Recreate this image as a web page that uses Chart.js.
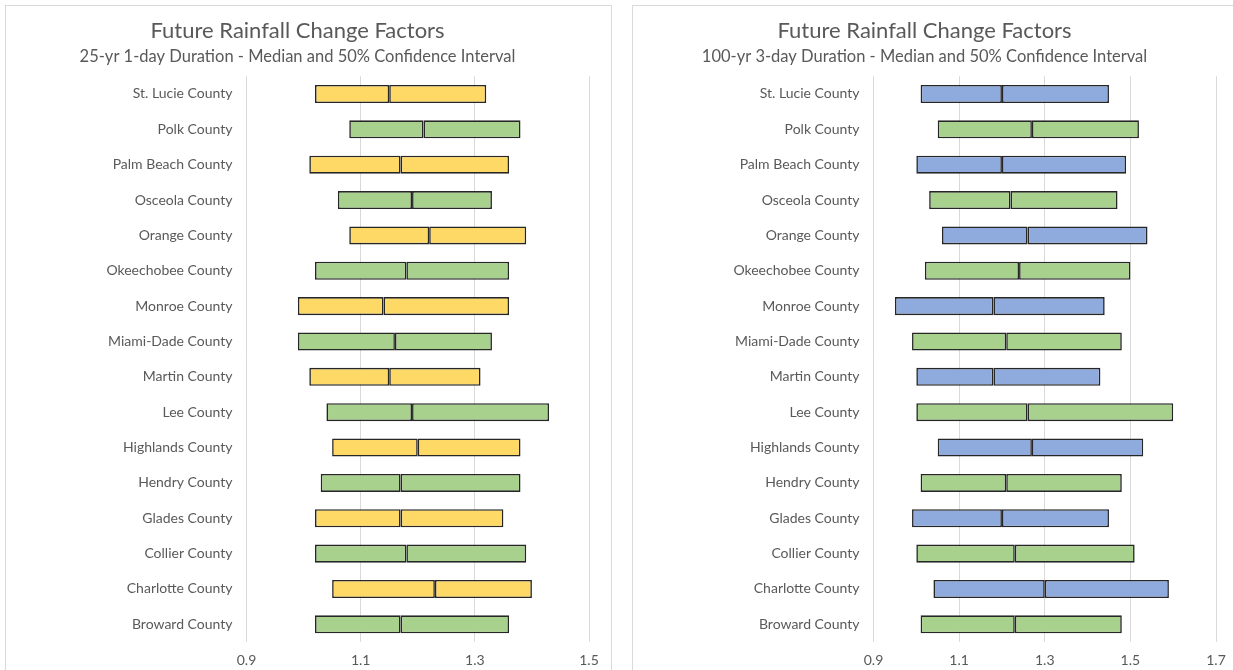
<!DOCTYPE html>
<html>
<head>
<meta charset="utf-8">
<script src="https://cdn.jsdelivr.net/npm/chart.js@4"></script>
<style>
  body { margin: 0; background: #fff; width: 1233px; height: 670px; overflow: hidden; position: relative; }
  .panel { position: absolute; top: 5px; height: 700px; border: 1px solid #d9d9d9; box-sizing: border-box; background: #fff; }
  .panel canvas { position: absolute; left: 0; top: 0; }
</style>
</head>
<body>
<div class="panel" style="left:5px; width:607px;"><canvas id="chart1" width="605" height="664"></canvas></div>
<div class="panel" style="left:632px; width:607px;"><canvas id="chart2" width="605" height="664"></canvas></div>

<script>
// ------------------- dados -------------------
const counties = [
  'St. Lucie County', 'Polk County', 'Palm Beach County', 'Osceola County',
  'Orange County', 'Okeechobee County', 'Monroe County', 'Miami-Dade County',
  'Martin County', 'Lee County', 'Highlands County', 'Hendry County',
  'Glades County', 'Collier County', 'Charlotte County', 'Broward County'
];

// 25-yr 1-day
const low1  = [1.02, 1.08, 1.01, 1.06, 1.08, 1.02, 0.99, 0.99, 1.01, 1.04, 1.05, 1.03, 1.02, 1.02, 1.05, 1.02];
const med1  = [1.15, 1.21, 1.17, 1.19, 1.22, 1.18, 1.14, 1.16, 1.15, 1.19, 1.20, 1.17, 1.17, 1.18, 1.23, 1.17];
const high1 = [1.32, 1.38, 1.36, 1.33, 1.39, 1.36, 1.36, 1.33, 1.31, 1.43, 1.38, 1.38, 1.35, 1.39, 1.40, 1.36];
const ticks1 = [0.9, 1.1, 1.3, 1.5];

// 100-yr 3-day
const low2  = [1.01, 1.05, 1.00, 1.03, 1.06, 1.02, 0.95, 0.99, 1.00, 1.00, 1.05, 1.01, 0.99, 1.00, 1.04, 1.01];
const med2  = [1.20, 1.27, 1.20, 1.22, 1.26, 1.24, 1.18, 1.21, 1.18, 1.26, 1.27, 1.21, 1.20, 1.23, 1.30, 1.23];
const high2 = [1.45, 1.52, 1.49, 1.47, 1.54, 1.50, 1.44, 1.48, 1.43, 1.60, 1.53, 1.48, 1.45, 1.51, 1.59, 1.48];
const ticks2 = [0.9, 1.1, 1.3, 1.5, 1.7];

const mainTitle = 'Future Rainfall Change Factors';
const subtitle1 = '25-yr 1-day Duration - Median and 50% Confidence Interval';
const subtitle2 = '100-yr 3-day Duration - Median and 50% Confidence Interval';

// ------------------- estilo -------------------
const GREEN = '#A9D18E';
const YELLOW = '#FFD966';
const BLUE = '#8FAADC';
const TEXT = '#595959';
const GRID = '#d9d9d9';
const FONT = 'Lato, "Open Sans", sans-serif';

function makeChart(canvas, low, med, high, tickVals, altColor, sub) {
  const ctx = canvas.getContext('2d');
  // alterna cor: primeira linha na cor alternativa, depois verde
  const colors = counties.map((c, i) => (i % 2 === 0 ? altColor : GREEN));
  const barStyle = {
    backgroundColor: colors,
    borderColor: '#262626',
    borderWidth: 1.6,
    borderSkipped: false,
    grouped: false,
    barPercentage: 0.51,
    categoryPercentage: 1,
  };

  return new Chart(ctx, {
    type: 'bar',
    data: {
      labels: counties,
      datasets: [
        { label: 'lower', data: low.map((v, i) => [v, med[i]]), ...barStyle },
        { label: 'upper', data: med.map((v, i) => [v, high[i]]), ...barStyle },
      ]
    },
    options: {
      indexAxis: 'y',
      responsive: false,
      animation: false,
      layout: { padding: { left: 0, right: 22, top: 0, bottom: 0 } },
      plugins: {
        legend: { display: false },
        tooltip: { enabled: false },
        title: {
          display: true,
          text: mainTitle,
          color: TEXT,
          font: { family: FONT, size: 22, weight: 'normal', lineHeight: 1.2 },
          padding: { top: 11.8, bottom: 1 },
        },
        subtitle: {
          display: true,
          text: sub,
          color: TEXT,
          font: { family: FONT, size: 16.5, weight: 'normal', lineHeight: 1.2 },
          padding: { top: 1.9, bottom: 9.4 },
        }
      },
      scales: {
        x: {
          min: tickVals[0],
          max: tickVals[tickVals.length - 1],
          afterBuildTicks: (scale) => { scale.ticks = tickVals.map(v => ({ value: v })); },
          afterFit: (scale) => { scale.height = 28; },
          grid: { color: GRID, lineWidth: 1, drawTicks: false },
          border: { display: false },
          ticks: {
            color: TEXT,
            padding: 10,
            font: { family: FONT, size: 14 },
            callback: (v) => Number(v).toFixed(1),
          }
        },
        y: {
          afterFit: (scale) => { scale.width = 240.5; },
          grid: { display: false, drawTicks: false },
          border: { display: false },
          ticks: {
            color: TEXT,
            padding: 14,
            font: { family: FONT, size: 14 },
          }
        }
      }
    }
  });
}

makeChart(document.getElementById('chart1'), low1, med1, high1, ticks1, YELLOW, subtitle1);
makeChart(document.getElementById('chart2'), low2, med2, high2, ticks2, BLUE, subtitle2);
</script>
</body>
</html>
